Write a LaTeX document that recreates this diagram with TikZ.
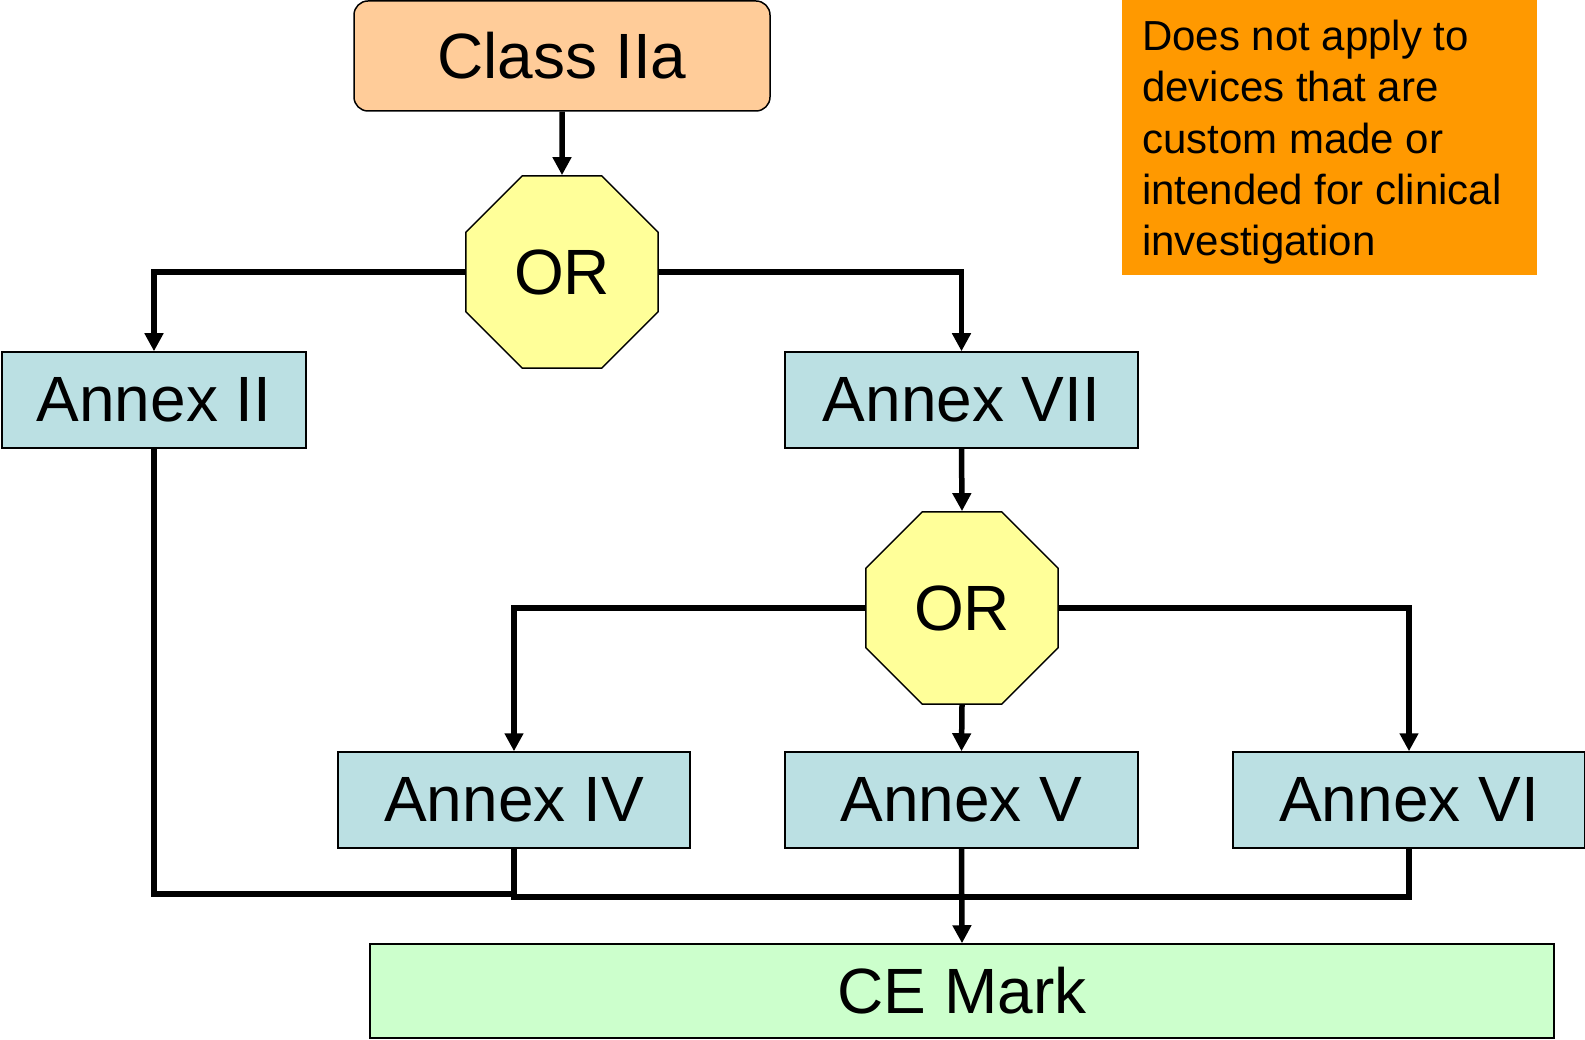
\documentclass[tikz,border=0pt]{standalone}
\usepackage{fontspec}
\setmainfont{Liberation Sans}
\usetikzlibrary{shapes.geometric,arrows.meta}
\definecolor{peach}{HTML}{FFCC99}
\definecolor{oryellow}{HTML}{FFFF99}
\definecolor{annexblue}{HTML}{BBE0E3}
\definecolor{cegreen}{HTML}{CCFFCC}
\definecolor{noteorange}{HTML}{FF9900}
\tikzset{
  box/.style={draw=black, line width=1.5pt, inner sep=0pt, font=\fontsize{64}{70}\selectfont},
  annex/.style={box, fill=annexblue, minimum width=352pt, minimum height=96pt},
  orgate/.style={regular polygon, regular polygon sides=8, draw=black, line width=1.5pt,
     fill=oryellow, inner sep=0pt, minimum size=208pt, font=\fontsize{64}{70}\selectfont},
  conn/.style={line width=5.5pt},
  arr/.style={conn, -{Triangle[length=18pt,width=18pt]}}
}
\begin{document}
\begin{tikzpicture}[x=1pt,y=-1pt]
\useasboundingbox (0,0) rectangle (1585,1040);
\node[box, fill=peach, rounded corners=14pt, minimum width=416pt, minimum height=110pt] (cls) at (562,56) {Class IIa};
\node[orgate] (or1) at (562,272) {OR};
\node[annex, minimum width=304pt] (a2) at (154,400) {Annex II};
\node[annex, minimum width=353pt] (a7) at (961.5,400) {Annex VII};
\node[orgate] (or2) at (962,608) {OR};
\node[annex] (a4) at (514,800) {Annex IV};
\node[annex, minimum width=353pt] (a5) at (961.5,800) {Annex V};
\node[annex] (a6) at (1409,800) {Annex VI};
\node[box, fill=cegreen, minimum width=1184pt, minimum height=94pt] (ce) at (962,991) {CE Mark};
\node[fill=noteorange, anchor=north west, minimum width=415pt, minimum height=275pt, inner sep=0pt] (notebg) at (1122,0) {};
\node[anchor=north west, inner sep=0pt, align=left,
      font=\fontsize{42}{51.3}\selectfont] (note) at (1142,20)
  {Does not apply to\\devices that are\\custom made or\\intended for clinical\\investigation};
\coordinate (j) at (514,894);
\draw[arr] (cls.south) -- (or1.north);
\draw[arr] (or1.west) -| (a2.north);
\draw[arr] (or1.east) -| (a7.north);
\draw[arr] (a7.south) -- (or2.north);
\draw[arr] (or2.west) -| (a4.north);
\draw[arr] (or2.south) -- (a5.north);
\draw[arr] (or2.east) -| (a6.north);
\draw[conn] (a2.south) |- (j);
\draw[conn] (a4.south) -- ++(0,48) -| (a6.south);
\draw[arr] (a5.south) -- (ce.north);
\end{tikzpicture}
\end{document}
